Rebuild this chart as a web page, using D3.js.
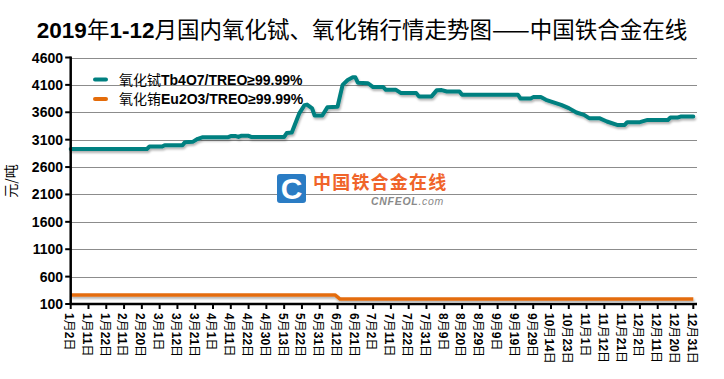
<!DOCTYPE html>
<html><head><meta charset="utf-8">
<script src="https://cdn.jsdelivr.net/npm/d3@7"></script>
<style>
html,body{margin:0;padding:0;background:#fff;}
svg{display:block;}
</style></head>
<body>
<svg id="chart" width="724" height="379"></svg>
<script>
// ---------- data ----------
const chartTitle = "2019年1-12月国内氧化铽、氧化铕行情走势图——中国铁合金在线";
const yLabel = "元/吨";
const yTicks = [100, 600, 1100, 1600, 2100, 2600, 3100, 3600, 4100, 4600];
const dateLabels = ["1月2日","1月11日","1月22日","2月11日","2月20日","3月1日","3月12日","3月21日","4月1日","4月11日","4月22日","4月30日","5月13日","5月22日","5月31日","6月12日","6月21日","7月2日","7月11日","7月22日","7月31日","8月9日","8月20日","8月29日","9月9日","9月19日","9月29日","10月14日","10月23日","11月1日","11月12日","11月21日","12月2日","12月11日","12月20日","12月31日"];
const tradingDaysPerLabel = 7;
const seriesNames = ["氧化铽Tb4O7/TREO≥99.99%", "氧化铕Eu2O3/TREO≥99.99%"];
// trading-day index and price for 氧化铽
const tbDays   = [0,30,31,36,37,44,45,48,50,52,62,63,65,66,67,70,71,84,85,87,90,92,93,95,96,99,101,105,107,109,111,112,113,117,119,123,124,128,130,136,137,142,144,146,148,153,154,176,177,181,182,185,187,193,196,199,202,204,208,211,215,218,219,224,227,235,236,239,240,245];
const tbValues = [2930,2930,2975,2975,3000,3000,3055,3060,3115,3145,3145,3165,3165,3150,3170,3170,3150,3150,3220,3230,3585,3730,3740,3670,3540,3540,3690,3700,4100,4190,4240,4240,4140,4130,4060,4060,4010,4010,3950,3950,3890,3890,4000,4005,3980,3980,3920,3920,3850,3850,3877,3877,3827,3736,3676,3596,3553,3493,3493,3432,3370,3370,3420,3420,3460,3460,3505,3505,3522,3522];
// trading-day index and price for 氧化铕
const euDays   = [0,104,106,245];
const euValues = [265,265,190,190];
const seriesColors = ["#008080", "#E46C0A"];

// ---------- layout ----------
const svg = d3.select("#chart");
const pL = 70.7, pR = 693.3, pRight = 697, pT = 57.5, pB = 304;
const latin = "'Liberation Sans', Arial, sans-serif";
const cjk = "'Noto Sans CJK SC', 'Liberation Sans', sans-serif";

const nDays = (dateLabels.length - 1) * tradingDaysPerLabel;
const x = d3.scaleLinear().domain([0, nDays]).range([pL, pR]);
const y = d3.scaleLinear().domain([100, 4600]).range([pB, pT]);

function rich(textSel, str, size) {
  const runs = str.match(/[\x00-\x7F≥]+|[^\x00-\x7F≥]+/g);
  runs.forEach(r => {
    const isLatin = /^[\x00-\x7F≥]+$/.test(r);
    textSel.append("tspan").text(r)
      .attr("font-family", isLatin ? latin : cjk)
      .attr("font-weight", isLatin ? "bold" : "normal")
      .attr("font-size", size);
  });
}

svg.append("rect").attr("width", 724).attr("height", 379).attr("fill", "#fff");

const defs = svg.append("defs");
const f = defs.append("filter").attr("id", "shadow").attr("x", "-5%").attr("y", "-50%").attr("width", "110%").attr("height", "200%");
f.append("feDropShadow").attr("dx", 1).attr("dy", 2).attr("stdDeviation", 1.2).attr("flood-color", "#000").attr("flood-opacity", 0.3);

// title
const t = svg.append("text").attr("x", 362).attr("y", 38).attr("text-anchor", "middle").attr("fill", "#000");
rich(t, chartTitle, 22.5);

// gridlines
svg.append("g").selectAll("line").data(yTicks).join("line")
  .attr("x1", pL).attr("x2", pRight)
  .attr("y1", d => Math.round(y(d)) + 0.5).attr("y2", d => Math.round(y(d)) + 0.5)
  .attr("stroke", "#8c8c8c").attr("stroke-width", 1);

// watermark
const wm = svg.append("g");
wm.append("rect").attr("x", 277).attr("y", 174).attr("width", 29).attr("height", 29).attr("rx", 3).attr("fill", "#2a7cc4");
wm.append("text").attr("x", 291.5).attr("y", 199).attr("text-anchor", "middle")
  .attr("font-family", latin).attr("font-weight", "900").attr("font-size", 30).attr("fill", "#fff").text("C");
wm.append("text").attr("x", 313).attr("y", 189).attr("font-family", cjk).attr("font-weight", "bold")
  .attr("font-size", 18).attr("fill", "#f0642a").attr("letter-spacing", 1.2).text("中国铁合金在线");
const wmc = wm.append("text").attr("x", 371).attr("y", 205).attr("font-family", latin).attr("font-style", "italic")
  .attr("font-size", 10.5).attr("fill", "#8a8a8a").attr("letter-spacing", 0.7);
wmc.append("tspan").attr("font-weight", "bold").text("CNFEOL");
wmc.append("tspan").text(".com");

// series lines
const line = d3.line().x(d => x(d[0])).y(d => y(d[1]));
const tbData = tbDays.map((d, i) => [d, tbValues[i]]);
const euData = euDays.map((d, i) => [d, euValues[i]]);
svg.append("path").datum(euData).attr("d", line).attr("fill", "none")
  .attr("stroke", seriesColors[1]).attr("stroke-width", 3.5).attr("stroke-linejoin", "round").attr("filter", "url(#shadow)");
svg.append("path").datum(tbData).attr("d", line).attr("fill", "none")
  .attr("stroke", seriesColors[0]).attr("stroke-width", 4).attr("stroke-linejoin", "round").attr("stroke-linecap", "round").attr("filter", "url(#shadow)");

// y axis
const yAxis = svg.append("g");
yAxis.append("line").attr("x1", pL).attr("x2", pL).attr("y1", pT - 1).attr("y2", pB + 1)
  .attr("stroke", "#000").attr("stroke-width", 2.5);
yAxis.selectAll(".yt").data(yTicks).join("line")
  .attr("x1", pL - 5.5).attr("x2", pL).attr("y1", d => y(d)).attr("y2", d => y(d))
  .attr("stroke", "#000").attr("stroke-width", 2);
yAxis.selectAll(".yl").data(yTicks).join("text")
  .attr("x", 63).attr("y", d => y(d)).attr("dy", "0.36em").attr("text-anchor", "end")
  .attr("font-family", latin).attr("font-weight", "bold").attr("font-size", 14).attr("fill", "#000")
  .text(d => d);

// x axis
const xAxis = svg.append("g");
xAxis.append("line").attr("x1", pL - 1).attr("x2", pRight).attr("y1", pB).attr("y2", pB)
  .attr("stroke", "#000").attr("stroke-width", 2.5);
const ticks = dateLabels.map((l, i) => ({ label: l, day: i * tradingDaysPerLabel }));
xAxis.selectAll(".xt").data(ticks).join("line")
  .attr("x1", d => x(d.day)).attr("x2", d => x(d.day)).attr("y1", pB).attr("y2", pB + 5)
  .attr("stroke", "#000").attr("stroke-width", 2);
xAxis.selectAll(".xl").data(ticks).join("text")
  .attr("transform", d => `translate(${x(d.day)},${pB + 9}) rotate(90)`)
  .attr("dy", "0.35em").attr("fill", "#000")
  .each(function(d) { rich(d3.select(this), d.label, 12); });

// y label
svg.append("text").attr("transform", "translate(16,181) rotate(-90)").attr("text-anchor", "middle")
  .attr("font-family", cjk).attr("font-size", 14).attr("fill", "#000").text(yLabel);

// legend
const lg = svg.append("g");
[0, 1].forEach(i => {
  const ly = 79.5 + i * 19.5;
  lg.append("line").attr("x1", 95).attr("x2", 106).attr("y1", ly).attr("y2", ly)
    .attr("stroke", seriesColors[i]).attr("stroke-width", 4).attr("stroke-linecap", "round");
  const lt = lg.append("text").attr("x", 119).attr("y", ly + 5).attr("fill", "#000");
  rich(lt, seriesNames[i], 14);
});
</script>
</body></html>
